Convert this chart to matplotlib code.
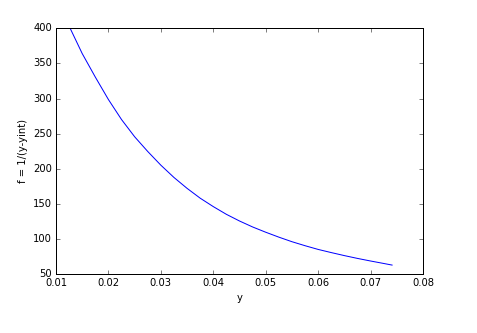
import matplotlib
matplotlib.use("Agg")
from matplotlib import pyplot as plt

plt.style.use("classic")

# values
y_vals = [0.0127, 0.015, 0.0175, 0.020, 0.0225, 0.025, 0.0275, 0.030,
          0.0325, 0.035, 0.0375, 0.040, 0.0425, 0.045, 0.0475, 0.050,
          0.0525, 0.055, 0.0575, 0.060, 0.0625, 0.065, 0.0675, 0.070,
          0.0725, 0.0741]
f_vals = [400.0, 364.0, 330.5, 298.5, 270.0, 245.5, 224.5, 205.0,
          187.5, 172.0, 158.0, 146.0, 135.0, 125.5, 117.0, 109.5,
          102.5, 96.0, 90.3, 85.0, 80.5, 76.2, 72.2, 68.5,
          65.0, 62.7]

x_ticks = [0.01, 0.02, 0.03, 0.04, 0.05, 0.06, 0.07, 0.08]
y_ticks = [50, 100, 150, 200, 250, 300, 350, 400]

fig = plt.figure(figsize=(477 / 72.0, 333 / 72.0), dpi=72, facecolor="white")
ax = fig.add_axes([0.1174, 0.1772, 0.7694, 0.7378])

ax.plot(y_vals, f_vals, color="b", linewidth=1.0)

ax.set_xlim(0.01, 0.08)
ax.set_ylim(50, 400)
ax.set_xticks(x_ticks)
ax.set_yticks(y_ticks)
ax.tick_params(labelsize=10)
ax.set_xlabel("y", fontsize=10)
ax.set_ylabel("f = 1/(y-yint)", fontsize=10)

fig.savefig("out.png", dpi=72, facecolor="white")
